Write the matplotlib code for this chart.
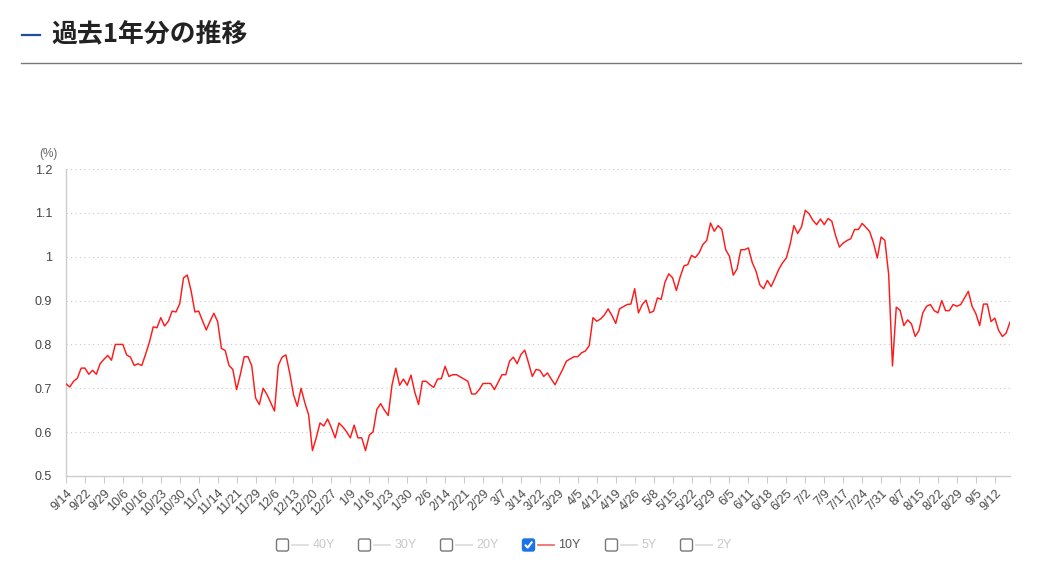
import matplotlib
matplotlib.use("Agg")
import matplotlib.pyplot as plt
from matplotlib.patches import FancyBboxPatch
from matplotlib.lines import Line2D

# 10Y yield, one value per business day
yield_10y = [
    0.710, 0.703, 0.716, 0.723, 0.746, 0.746, 0.732, 0.741, 0.732, 0.756,
    0.766, 0.775, 0.764, 0.800, 0.800, 0.800, 0.776, 0.771, 0.752, 0.756,
    0.752, 0.778, 0.805, 0.840, 0.838, 0.861, 0.842, 0.853, 0.876, 0.874,
    0.893, 0.952, 0.958, 0.922, 0.874, 0.876, 0.854, 0.833, 0.853, 0.871,
    0.852, 0.791, 0.786, 0.752, 0.743, 0.697, 0.732, 0.772, 0.772, 0.751,
    0.678, 0.663, 0.700, 0.686, 0.667, 0.648, 0.752, 0.771, 0.776, 0.735,
    0.686, 0.659, 0.700, 0.667, 0.639, 0.558, 0.587, 0.621, 0.614, 0.630,
    0.610, 0.587, 0.621, 0.612, 0.601, 0.587, 0.616, 0.587, 0.587, 0.558,
    0.593, 0.601, 0.652, 0.665, 0.650, 0.638, 0.708, 0.746, 0.707, 0.721,
    0.707, 0.730, 0.691, 0.663, 0.716, 0.716, 0.708, 0.702, 0.721, 0.722,
    0.750, 0.727, 0.731, 0.731, 0.726, 0.721, 0.716, 0.687, 0.687, 0.697,
    0.711, 0.711, 0.711, 0.697, 0.714, 0.731, 0.731, 0.762, 0.771, 0.756,
    0.777, 0.787, 0.758, 0.727, 0.743, 0.741, 0.727, 0.735, 0.721, 0.708,
    0.726, 0.743, 0.762, 0.767, 0.772, 0.772, 0.781, 0.785, 0.797, 0.861,
    0.853, 0.858, 0.867, 0.881, 0.866, 0.848, 0.881, 0.886, 0.891, 0.892,
    0.927, 0.872, 0.891, 0.901, 0.872, 0.876, 0.906, 0.903, 0.942, 0.961,
    0.952, 0.923, 0.954, 0.979, 0.982, 1.003, 0.998, 1.009, 1.028, 1.037,
    1.077, 1.058, 1.071, 1.062, 1.016, 1.001, 0.958, 0.972, 1.016, 1.016,
    1.020, 0.987, 0.967, 0.936, 0.927, 0.946, 0.932, 0.951, 0.971, 0.986,
    0.997, 1.028, 1.071, 1.053, 1.068, 1.106, 1.098, 1.083, 1.073, 1.086,
    1.073, 1.087, 1.081, 1.048, 1.022, 1.031, 1.037, 1.041, 1.062, 1.062,
    1.076, 1.067, 1.057, 1.031, 0.997, 1.045, 1.037, 0.959, 0.751, 0.885,
    0.878, 0.843, 0.856, 0.847, 0.818, 0.832, 0.872, 0.887, 0.891, 0.877,
    0.872, 0.900, 0.877, 0.877, 0.891, 0.887, 0.891, 0.906, 0.921, 0.887,
    0.870, 0.843, 0.892, 0.892, 0.852, 0.860, 0.832, 0.818, 0.826, 0.851,
]

# one label every 5 business days
tick_labels = [
    "9/14", "9/22", "9/29", "10/6", "10/16", "10/23", "10/30", "11/7", "11/14", "11/21",
    "11/29", "12/6", "12/13", "12/20", "12/27", "1/9", "1/16", "1/23", "1/30", "2/6",
    "2/14", "2/21", "2/29", "3/7", "3/14", "3/22", "3/29", "4/5", "4/12", "4/19",
    "4/26", "5/8", "5/15", "5/22", "5/29", "6/5", "6/11", "6/18", "6/25", "7/2",
    "7/9", "7/17", "7/24", "7/31", "8/7", "8/15", "8/22", "8/29", "9/5", "9/12",
]
tick_step = 5

y_ticks = [0.5, 0.6, 0.7, 0.8, 0.9, 1.0, 1.1, 1.2]
y_tick_labels = ["0.5", "0.6", "0.7", "0.8", "0.9", "1", "1.1", "1.2"]

legend_names = ["40Y", "30Y", "20Y", "10Y", "5Y", "2Y"]
legend_active = "10Y"

W, H = 1039, 569
fig = plt.figure(figsize=(W / 100, H / 100), dpi=100)

# ------------------------------------------------------------------ #
# main chart
# ------------------------------------------------------------------ #
ax = fig.add_axes([66 / W, 1 - 476 / H, 944 / W, 307 / H])
x = list(range(len(yield_10y)))
ax.plot(x, yield_10y, color="#ff1a1a", lw=1.05, zorder=3)

ax.set_xlim(0, len(yield_10y) - 1)
ax.set_ylim(0.5, 1.2)
ax.set_yticks(y_ticks)
ax.set_yticklabels(y_tick_labels, family="Liberation Sans", fontsize=9, color="#444444")
ax.tick_params(axis="y", length=0, pad=10)

xt = [i * tick_step for i in range(len(tick_labels))]
ax.set_xticks(xt)
ax.set_xticklabels(tick_labels, rotation=45, ha="right", rotation_mode="anchor",
                   family="Liberation Sans", fontsize=9, color="#4a4a4a")
ax.tick_params(axis="x", length=5, width=0.8, color="#cccccc", pad=3)

for v in y_ticks[1:]:
    ax.axhline(v, color="#c8c8c8", lw=0.8, ls=(0, (1, 3)), zorder=1)

for s in ("top", "right"):
    ax.spines[s].set_visible(False)
for s in ("left", "bottom"):
    ax.spines[s].set_color("#cccccc")
    ax.spines[s].set_linewidth(1.0)

# ------------------------------------------------------------------ #
# overlay in pixel coordinates: heading, rule, unit, legend
# ------------------------------------------------------------------ #
ov = fig.add_axes([0, 0, 1, 1], zorder=5)
ov.set_xlim(0, W)
ov.set_ylim(H, 0)
ov.axis("off")

ov.add_line(Line2D([22, 40], [35, 35], color="#1f4e9c", lw=1.6))
ov.text(51, 35, "過去1年分の推移", family=["Noto Sans CJK JP", "DejaVu Sans"],
        fontsize=18.6, fontweight="bold", color="#222222", va="center", ha="left")
ov.add_line(Line2D([21, 1021], [62.5, 62.5], color="#777777", lw=1.0))

ov.text(48, 154, "(%)", family="Liberation Sans", fontsize=8.5, color="#666666",
        ha="center", va="center")

box_x = [276.5, 358.5, 440.5, 522.5, 605.5, 680.5]
ly = 545
for bx, name in zip(box_x, legend_names):
    on = name == legend_active
    box = FancyBboxPatch((bx, ly - 6), 12, 12, boxstyle="round,pad=0,rounding_size=2",
                         facecolor="#1a73e8" if on else "white",
                         edgecolor="#1a73e8" if on else "#777777", lw=1.0)
    ov.add_patch(box)
    if on:
        ov.add_line(Line2D([bx + 3, bx + 5.2, bx + 9.3], [ly + 0.3, ly + 2.6, ly - 2.8],
                           color="white", lw=1.5, solid_capstyle="round"))
    ov.add_line(Line2D([bx + 15, bx + 31], [ly, ly],
                       color="#f07070" if on else "#dddddd", lw=1.3))
    ov.text(bx + 36, ly + 0.5, name, family="Liberation Sans", fontsize=9,
            color="#555555" if on else "#c8c8c8", ha="left", va="center")

fig.savefig("out.png", dpi=100)
